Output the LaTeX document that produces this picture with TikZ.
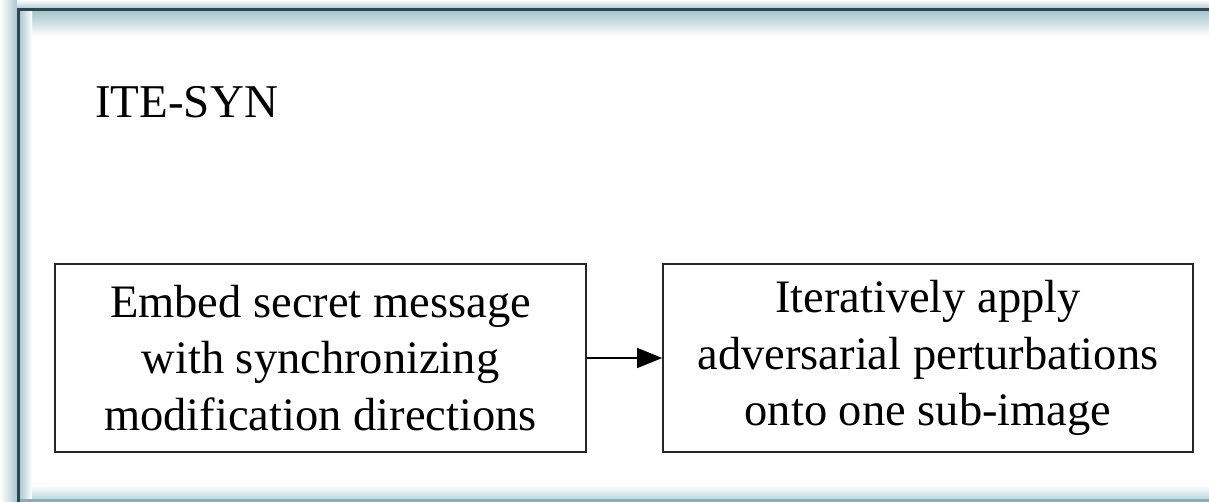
\documentclass[tikz,border=0pt]{standalone}
\usepackage{fontspec}
\setmainfont{Liberation Serif}
\usetikzlibrary{arrows.meta}
\definecolor{glowdark}{HTML}{A9C9D1}
\definecolor{frameline}{HTML}{2E4650}
\definecolor{bottomline}{HTML}{8AAAB4}
\definecolor{innershade}{HTML}{A3C1C8}
\definecolor{bottomshade}{HTML}{B6D6E0}
\tikzset{
  stepbox/.style={draw=black!85, line width=1.6pt, fill=white, minimum width=531pt, minimum height=188pt, align=center, inner sep=0pt, font=\fontsize{46.5}{56.5}\selectfont},
  flowarrow/.style={line width=1.3pt, -{Triangle[length=25pt,width=20pt]}},
}
\begin{document}
\begin{tikzpicture}[x=1pt,y=-1pt]
\useasboundingbox (0,0) rectangle (1209,502);
% outer glow
\fill[white] (0,0) rectangle (1209,502);
\shade[left color=white, right color=glowdark] (0,0) rectangle (17,502);
\shade[top color=white, bottom color=glowdark] (17,0) rectangle (1209,9);
% inner area
\fill[white] (18,10) rectangle (1209,500);
\shade[top color=innershade, bottom color=white] (18,10) rectangle (1209,36);
\shade[left color=innershade, right color=white] (18,10) rectangle (32,500);
\shade[top color=white, bottom color=bottomshade] (32,485) rectangle (1209,500);
% frame line
\draw[bottomline, line width=2.5pt] (18,500.5) -- (1215,500.5);
\draw[frameline, line width=3pt] (1215,10) -- (18,10) -- (18,502);
% title
\node[anchor=base west, inner sep=0pt, font=\fontsize{47}{56}\selectfont] (title) at (95,118) {ITE-SYN};
% boxes
\node[stepbox] (embed) at (320.5,358) {Embed secret message\\with synchronizing\\modification directions};
\node[stepbox, minimum width=530pt] (perturb) at (928,358) {Iteratively apply\\adversarial perturbations\\onto one sub-image};
\draw[flowarrow] (embed.east) -- (perturb.west);
\end{tikzpicture}
\end{document}
